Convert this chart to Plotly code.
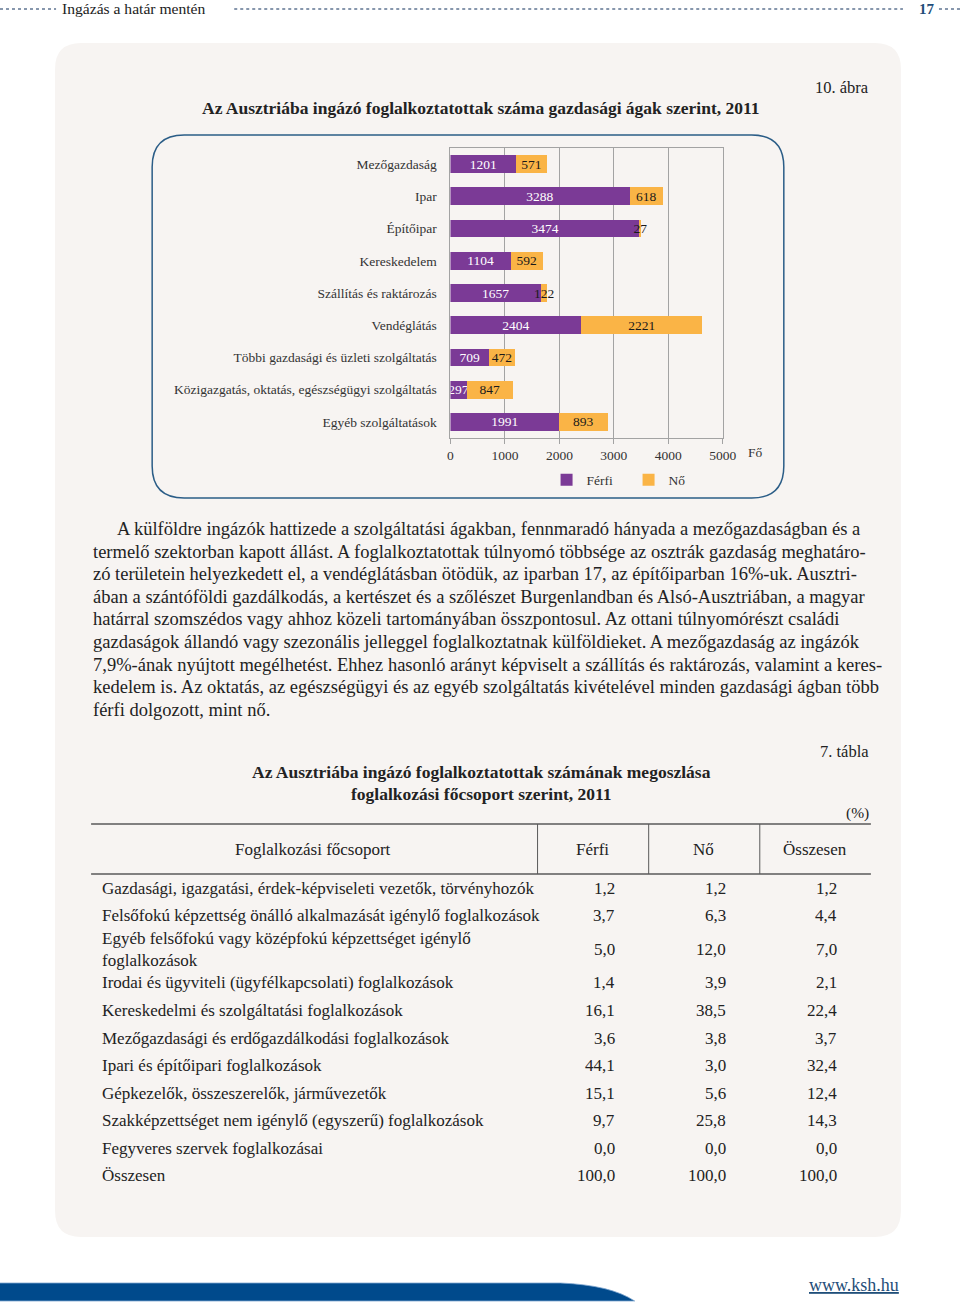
import plotly.graph_objects as go

W, H = 960, 1308
FIG_W = 978
X_SHIFT = 3
SERIF = "Liberation Serif, Times New Roman, serif"

# ---------------- data ----------------
categories = [
    "Mezőgazdaság", "Ipar", "Építőipar", "Kereskedelem", "Szállítás és raktározás",
    "Vendéglátás", "Többi gazdasági és üzleti szolgáltatás",
    "Közigazgatás, oktatás, egészségügyi szolgáltatás", "Egyéb szolgáltatások",
]
ferfi = [1201, 3288, 3474, 1104, 1657, 2404, 709, 297, 1991]
no = [571, 618, 27, 592, 122, 2221, 472, 847, 893]
x_ticks = [0, 1000, 2000, 3000, 4000, 5000]

table_header = ["Foglalkozási főcsoport", "Férfi", "Nő", "Összesen"]
occupations = [
    "Gazdasági, igazgatási, érdek-képviseleti vezetők, törvényhozók",
    "Felsőfokú képzettség önálló alkalmazását igénylő foglalkozások",
    "Egyéb felsőfokú vagy középfokú képzettséget igénylő<br>foglalkozások",
    "Irodai és ügyviteli (ügyfélkapcsolati) foglalkozások",
    "Kereskedelmi és szolgáltatási foglalkozások",
    "Mezőgazdasági és erdőgazdálkodási foglalkozások",
    "Ipari és építőipari foglalkozások",
    "Gépkezelők, összeszerelők, járművezetők",
    "Szakképzettséget nem igénylő (egyszerű) foglalkozások",
    "Fegyveres szervek foglalkozásai",
    "Összesen",
]
t_ferfi = [1.2, 3.7, 5.0, 1.4, 16.1, 3.6, 44.1, 15.1, 9.7, 0.0, 100.0]
t_no = [1.2, 6.3, 12.0, 3.9, 38.5, 3.8, 3.0, 5.6, 25.8, 0.0, 100.0]
t_ossz = [1.2, 4.4, 7.0, 2.1, 22.4, 3.7, 32.4, 12.4, 14.3, 0.0, 100.0]

paragraph_lines = [
    "A külföldre ingázók hattizede a szolgáltatási ágakban, fennmaradó hányada a mezőgazdaságban és a",
    "termelő szektorban kapott állást. A foglalkoztatottak túlnyomó többsége az osztrák gazdaság meghatáro-",
    "zó területein helyezkedett el, a vendéglátásban ötödük, az iparban 17, az építőiparban 16%-uk. Ausztri-",
    "ában a szántóföldi gazdálkodás, a kertészet és a szőlészet Burgenlandban és Alsó-Ausztriában, a magyar",
    "határral szomszédos vagy ahhoz közeli tartományában összpontosul. Az ottani túlnyomórészt családi",
    "gazdaságok állandó vagy szezonális jelleggel foglalkoztatnak külföldieket. A mezőgazdaság az ingázók",
    "7,9%-ának nyújtott megélhetést. Ehhez hasonló arányt képviselt a szállítás és raktározás, valamint a keres-",
    "kedelem is. Az oktatás, az egészségügyi és az egyéb szolgáltatás kivételével minden gazdasági ágban több",
    "férfi dolgozott, mint nő.",
]


def px(x):
    return (x - X_SHIFT) / W


def py(y):
    return 1 - y / H


def fmt(v):
    return f"{v:.1f}".replace(".", ",")


def rrect(x0, y0, x1, y1, r):
    pts = [
        ("M", x0 + r, y0), ("L", x1 - r, y0), ("Q", x1, y0, x1, y0 + r),
        ("L", x1, y1 - r), ("Q", x1, y1, x1 - r, y1), ("L", x0 + r, y1),
        ("Q", x0, y1, x0, y1 - r), ("L", x0, y0 + r), ("Q", x0, y0, x0 + r, y0),
    ]
    s = ""
    for p in pts:
        cmd = p[0]
        coords = p[1:]
        parts = []
        for i in range(0, len(coords), 2):
            parts.append(f"{px(coords[i]):.5f},{py(coords[i+1]):.5f}")
        s += cmd + " ".join(parts) + " "
    return s + "Z"


fig = go.Figure()

PURPLE = "#7b3a96"
ORANGE = "#fab446"
GRID = "#a3a3a3"

fig.add_trace(go.Bar(
    name="Férfi", y=categories, x=ferfi, orientation="h",
    marker=dict(color=PURPLE, line=dict(width=0)),
    text=[str(v) for v in ferfi], textposition="inside", insidetextanchor="middle",
    textangle=0, constraintext="none", textfont=dict(color="white", size=13.5, family=SERIF),
))
fig.add_trace(go.Bar(
    name="Nő", y=categories, x=no, orientation="h",
    marker=dict(color=ORANGE, line=dict(width=0)),
    text=[str(v) for v in no], textposition="inside", insidetextanchor="middle",
    textangle=0, constraintext="none", textfont=dict(color="#1a1a1a", size=13.5, family=SERIF),
))

shapes = []
annotations = []

# page panel
shapes.append(dict(type="path", xref="paper", yref="paper", path=rrect(55, 43, 900, 1237, 26),
                   fillcolor="#f7f4f2", line=dict(width=0), layer="below"))
# chart box
shapes.append(dict(type="path", xref="paper", yref="paper", path=rrect(152, 135, 783, 498, 32),
                   fillcolor="rgba(0,0,0,0)", line=dict(color="#2b5d87", width=1.5), layer="below"))

# header dotted lines
DOT = "#8797ad"
for x0, x1 in [(0, 56), (234, 902), (938, 965)]:
    shapes.append(dict(type="line", xref="paper", yref="paper", x0=px(x0), x1=px(x1), y0=py(9), y1=py(9),
                       line=dict(color=DOT, width=2, dash="dot")))
annotations.append(dict(text="Ingázás a határ mentén", x=px(60), y=py(8), xanchor="left", yanchor="middle",
                        font=dict(family=SERIF, size=15.6, color="#222")))
annotations.append(dict(text="<b>17</b>", x=px(926), y=py(9), xanchor="center", yanchor="middle",
                        font=dict(family=SERIF, size=15, color="#1f4e79")))

# chart titles
annotations.append(dict(text="10. ábra", x=px(870), y=py(88), xanchor="right", yanchor="middle",
                        font=dict(family=SERIF, size=16.5, color="#222")))
annotations.append(dict(text="<b>Az Ausztriába ingázó foglalkoztatottak száma gazdasági ágak szerint, 2011</b>",
                        x=px(481), y=py(108), xanchor="center", yanchor="middle",
                        font=dict(family=SERIF, size=17.5, color="#222")))
annotations.append(dict(text="Fő", x=px(745), y=py(453), xanchor="left", yanchor="middle",
                        font=dict(family=SERIF, size=13.5, color="#333")))

# paragraph
for i, line in enumerate(paragraph_lines):
    annotations.append(dict(text=line, x=px(115 if i == 0 else 91), y=py(529 + i * 22.6),
                            xanchor="left", yanchor="middle",
                            font=dict(family=SERIF, size=18.5, color="#222")))

# table title
annotations.append(dict(text="7. tábla", x=px(870), y=py(751), xanchor="right", yanchor="middle",
                        font=dict(family=SERIF, size=16.5, color="#222")))
annotations.append(dict(text="<b>Az Ausztriába ingázó foglalkoztatottak számának megoszlása</b>",
                        x=px(481), y=py(772), xanchor="center", yanchor="middle",
                        font=dict(family=SERIF, size=17.5, color="#222")))
annotations.append(dict(text="<b>foglalkozási főcsoport szerint, 2011</b>",
                        x=px(481), y=py(794), xanchor="center", yanchor="middle",
                        font=dict(family=SERIF, size=17.5, color="#222")))
annotations.append(dict(text="(%)", x=px(870), y=py(813), xanchor="right", yanchor="middle",
                        font=dict(family=SERIF, size=15.5, color="#222")))

# table lines
LINE = "#5a5a5a"
for yy in (824, 874):
    shapes.append(dict(type="line", xref="paper", yref="paper", x0=px(91), x1=px(870), y0=py(yy), y1=py(yy),
                       line=dict(color=LINE, width=1.5)))
for xx in (537, 648, 759):
    shapes.append(dict(type="line", xref="paper", yref="paper", x0=px(xx), x1=px(xx), y0=py(824), y1=py(874),
                       line=dict(color=LINE, width=1)))

header_x = [313, 592, 703, 814]
for h, hx in zip(table_header, header_x):
    annotations.append(dict(text=h, x=px(hx), y=py(849), xanchor="center", yanchor="middle",
                            font=dict(family=SERIF, size=17, color="#222")))

row_y = [888, 915, 949, 983, 1010, 1038, 1065, 1093, 1120, 1148, 1175]
for lab, f, n, o, yy in zip(occupations, t_ferfi, t_no, t_ossz, row_y):
    annotations.append(dict(text=lab, x=px(100), y=py(yy), xanchor="left", yanchor="middle", align="left",
                            font=dict(family=SERIF, size=17, color="#222")))
    for v, xr in zip((f, n, o), (616, 727, 838)):
        annotations.append(dict(text=fmt(v), x=px(xr), y=py(yy), xanchor="right", yanchor="middle",
                                font=dict(family=SERIF, size=17, color="#222")))

# footer
shapes.append(dict(type="path", xref="paper", yref="paper",
                   path=(f"M{px(-5)},{py(1283)} L{px(560)},{py(1283)} Q{px(610)},{py(1285)} {px(634)},{py(1301)} "
                         f"L{px(-5)},{py(1301)} Z"),
                   fillcolor="#004a8c", line=dict(color="#7fa6cf", width=0.8)))
annotations.append(dict(text="<u>www.ksh.hu</u>", x=px(853), y=py(1285), xanchor="center", yanchor="middle",
                        font=dict(family=SERIF, size=18, color="#1f4e79")))

for a in annotations:
    a.setdefault("xref", "paper")
    a.setdefault("yref", "paper")
    a.setdefault("showarrow", False)

fig.update_layout(
    width=FIG_W, height=H,
    margin=dict(l=0, r=0, t=0, b=0),
    paper_bgcolor="white", plot_bgcolor="rgba(0,0,0,0)",
    barmode="stack", bargap=0.45,
    font=dict(family=SERIF, color="#333"),
    shapes=shapes, annotations=annotations,
    legend=dict(orientation="h", x=px(546), y=py(480), xanchor="left", yanchor="middle",
                font=dict(family=SERIF, size=13.5, color="#333"), bgcolor="rgba(0,0,0,0)",
                entrywidth=37, entrywidthmode="pixels", traceorder="normal"),
    xaxis=dict(domain=[px(450), px(722)], range=[0, 5000], tickvals=x_ticks,
               showgrid=True, gridcolor=GRID, gridwidth=1, zeroline=False,
               showline=True, linecolor=GRID, linewidth=1, mirror=True,
               ticks="outside", ticklen=5, tickcolor=GRID,
               tickfont=dict(family=SERIF, size=13.5, color="#333"), fixedrange=True),
    yaxis=dict(domain=[py(438), py(148)], autorange="reversed",
               showgrid=False, showline=True, linecolor=GRID, linewidth=1, mirror=True,
               ticks="", ticklabelstandoff=10,
               tickfont=dict(family=SERIF, size=13.5, color="#333"), fixedrange=True),
)

fig.write_html(
    "out.html",
    config={"displayModeBar": False},
    post_script=("document.documentElement.style.margin='0';document.body.style.margin='0';"
                 "document.body.style.overflow='hidden';"),
)
